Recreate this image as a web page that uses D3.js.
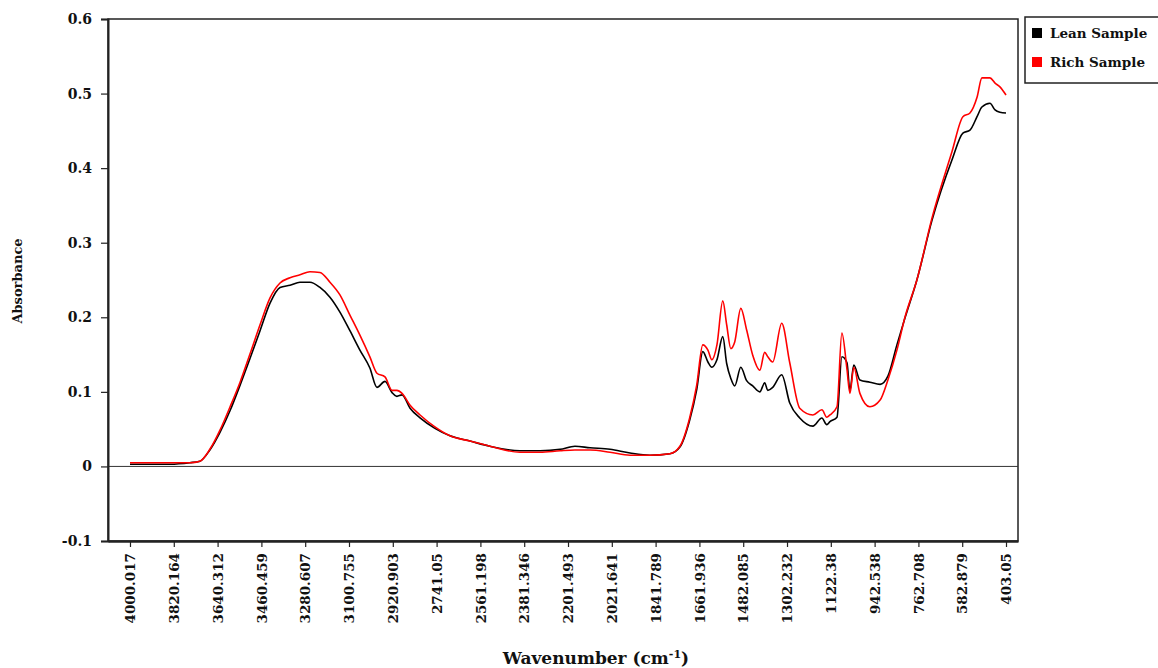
<!DOCTYPE html>
<html lang="en">
<head>
    <meta charset="UTF-8">
    <title>Absorbance vs Wavenumber</title>
    <script src="https://d3js.org/d3.v7.min.js"></script>
    <style>
        body { margin: 0; background: #fff; }
        svg text { font-family: "DejaVu Serif", serif; font-weight: bold; fill: #111; }
    </style>
</head>
<body>
    <div id="chart"></div>

    <script>
        // Wavenumber grid (cm-1)
        const wavenumber = [4000, 3918, 3836, 3754, 3713, 3672, 3630, 3589, 3548, 3507, 3466, 3425, 3384, 3343,
            3302, 3261, 3220, 3179, 3138, 3097, 3056, 3015, 2986, 2953, 2924, 2904, 2883, 2850, 2809, 2748,
            2686, 2604, 2522, 2399, 2316, 2234, 2173, 2111, 2029, 1947, 1865, 1783, 1742, 1702, 1673, 1648,
            1627, 1611, 1590, 1566, 1550, 1533, 1517, 1492, 1468, 1443, 1414, 1394, 1381, 1361, 1324, 1291,
            1250, 1196, 1159, 1139, 1126, 1097, 1077, 1056, 1044, 1028, 1003, 962, 920, 888, 851, 818, 769,
            707, 625, 580, 551, 522, 502, 469, 448, 428, 403];

        const leanSample = [0.003, 0.003, 0.003, 0.005, 0.007, 0.022, 0.046, 0.075, 0.109, 0.145, 0.182, 0.219,
            0.240, 0.243, 0.247, 0.247, 0.240, 0.227, 0.207, 0.182, 0.156, 0.132, 0.106, 0.114, 0.099, 0.094,
            0.096, 0.078, 0.065, 0.051, 0.041, 0.034, 0.027, 0.021, 0.021, 0.023, 0.027, 0.025, 0.023, 0.018,
            0.015, 0.017, 0.026, 0.062, 0.103, 0.154, 0.140, 0.133, 0.143, 0.174, 0.138, 0.118, 0.108, 0.133,
            0.115, 0.108, 0.100, 0.112, 0.102, 0.106, 0.123, 0.085, 0.065, 0.054, 0.065, 0.056, 0.060, 0.066,
            0.147, 0.139, 0.102, 0.136, 0.116, 0.113, 0.110, 0.121, 0.163, 0.199, 0.250, 0.330, 0.411, 0.447,
            0.451, 0.469, 0.482, 0.487, 0.478, 0.475, 0.474];

        const richSample = [0.005, 0.005, 0.005, 0.005, 0.007, 0.023, 0.049, 0.080, 0.113, 0.151, 0.190, 0.226,
            0.246, 0.253, 0.257, 0.261, 0.260, 0.247, 0.230, 0.203, 0.176, 0.147, 0.125, 0.120, 0.102, 0.102,
            0.098, 0.082, 0.069, 0.053, 0.041, 0.034, 0.027, 0.019, 0.019, 0.021, 0.022, 0.022, 0.019, 0.015,
            0.015, 0.017, 0.027, 0.065, 0.109, 0.163, 0.156, 0.143, 0.163, 0.222, 0.190, 0.158, 0.167, 0.212,
            0.183, 0.149, 0.129, 0.153, 0.147, 0.140, 0.192, 0.139, 0.078, 0.069, 0.076, 0.066, 0.069, 0.080,
            0.179, 0.130, 0.098, 0.133, 0.098, 0.080, 0.089, 0.116, 0.156, 0.200, 0.250, 0.333, 0.422, 0.469,
            0.474, 0.495, 0.521, 0.521, 0.514, 0.509, 0.498];

        const xTickLabels = ["4000.017", "3820.164", "3640.312", "3460.459", "3280.607", "3100.755", "2920.903",
            "2741.05", "2561.198", "2381.346", "2201.493", "2021.641", "1841.789", "1661.936", "1482.085",
            "1302.232", "1122.38", "942.538", "762.708", "582.879", "403.05"];
        const yTicks = [-0.1, 0, 0.1, 0.2, 0.3, 0.4, 0.5, 0.6];
        const yTickLabels = ["-0.1", "0", "0.1", "0.2", "0.3", "0.4", "0.5", "0.6"];

        const seriesNames = ["Lean Sample", "Rich Sample"];
        const seriesColors = ["#000000", "#ff0000"];

        const W = 1158, H = 668;
        const margin = { left: 108, right: 1018, top: 19, bottom: 541 };

        const svg = d3.select("#chart").append("svg")
            .attr("width", W)
            .attr("height", H);

        // Scales
        const x = d3.scaleLinear().domain([4090.3, 353.8]).range([margin.left, margin.right]);
        const y = d3.scaleLinear().domain([-0.1, 0.6]).range([margin.bottom, margin.top]);

        // Frame
        svg.append("rect")
            .attr("x", margin.left).attr("y", margin.top)
            .attr("width", margin.right - margin.left).attr("height", margin.bottom - margin.top)
            .attr("fill", "none").attr("stroke", "#222").attr("stroke-width", 1.5);

        // Zero line
        svg.append("line")
            .attr("x1", margin.left).attr("x2", margin.right)
            .attr("y1", y(0)).attr("y2", y(0))
            .attr("stroke", "#333").attr("stroke-width", 1);

        // Y axis
        const yAxis = svg.append("g")
            .attr("transform", `translate(${margin.left},0)`)
            .call(d3.axisLeft(y).tickValues(yTicks).tickFormat((d, i) => yTickLabels[i]).tickSize(7).tickPadding(9));
        yAxis.select(".domain").attr("stroke", "#222").attr("stroke-width", 2);
        yAxis.selectAll(".tick line").attr("stroke", "#222").attr("stroke-width", 1.2);
        yAxis.selectAll("text").attr("font-size", 14).attr("font-family", null);

        // X axis
        const xAxis = svg.append("g")
            .attr("transform", `translate(0,${margin.bottom})`)
            .call(d3.axisBottom(x).tickValues(xTickLabels.map(Number)).tickFormat((d, i) => xTickLabels[i]).tickSize(6).tickSizeOuter(0));
        xAxis.select(".domain").attr("stroke", "#222").attr("stroke-width", 2.5);
        xAxis.selectAll(".tick line").attr("stroke", "#222").attr("stroke-width", 1.2);
        xAxis.selectAll("text")
            .attr("font-size", 13.5)
            .attr("font-family", null)
            .attr("text-anchor", "end")
            .attr("transform", "rotate(-90)")
            .attr("x", -12)
            .attr("y", 0)
            .attr("dy", "0.35em");

        // Lines
        const line = d3.line()
            .x(d => x(d[0]))
            .y(d => y(d[1]))
            .curve(d3.curveMonotoneX);

        [leanSample, richSample].forEach((vals, i) => {
            svg.append("path")
                .datum(wavenumber.map((w, j) => [w, vals[j]]))
                .attr("fill", "none")
                .attr("stroke", seriesColors[i])
                .attr("stroke-width", 1.6)
                .attr("d", line);
        });

        // Axis titles
        const xTitle = svg.append("text")
            .attr("x", 596).attr("y", 664)
            .attr("text-anchor", "middle")
            .attr("font-size", 17);
        xTitle.append("tspan").text("Wavenumber (cm");
        xTitle.append("tspan").attr("baseline-shift", "super").attr("font-size", 11).text("-1");
        xTitle.append("tspan").text(")");

        svg.append("text")
            .attr("transform", "translate(22,281) rotate(-90)")
            .attr("text-anchor", "middle")
            .attr("font-size", 13)
            .text("Absorbance");

        // Legend
        const legend = svg.append("g");
        legend.append("rect")
            .attr("x", 1025).attr("y", 17)
            .attr("width", 140).attr("height", 66)
            .attr("fill", "#fff").attr("stroke", "#222").attr("stroke-width", 1.5);
        seriesNames.forEach((name, i) => {
            legend.append("rect")
                .attr("x", 1032).attr("y", 28 + i * 29)
                .attr("width", 10).attr("height", 10)
                .attr("fill", seriesColors[i]);
            legend.append("text")
                .attr("x", 1050).attr("y", 38 + i * 29)
                .attr("font-size", 13.5)
                .text(name);
        });
    </script>
</body>
</html>
